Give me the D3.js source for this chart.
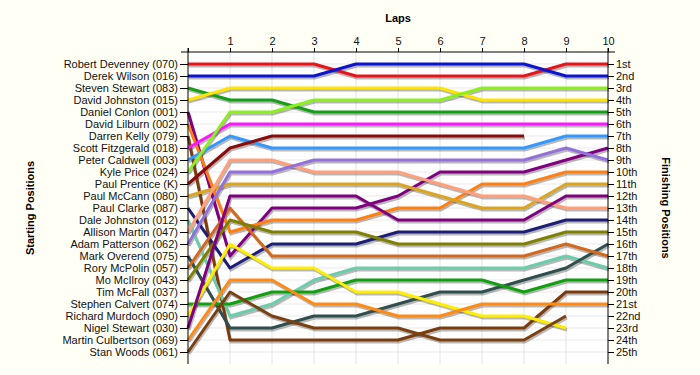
<!DOCTYPE html>
<html>
<head>
<meta charset="utf-8">
<script src="https://cdn.jsdelivr.net/npm/d3@7"></script>
<style>
  body { margin: 0; background: #fffff6; }
  svg { display: block; font-family: "Liberation Sans", Arial, sans-serif; }
  .axis path, .axis line { stroke: #000; }
  .axis text { fill: #111; font-size: 11px; }
</style>
</head>
<body>
<svg id="lapchart" width="700" height="375"></svg>
<script>
// data: starting grid order, and position after each lap (index 0 = start)
const drivers = [
  "Robert Devenney (070)", "Derek Wilson (016)", "Steven Stewart (083)",
  "David Johnston (015)", "Daniel Conlon (001)", "David Lilburn (002)",
  "Darren Kelly (079)", "Scott Fitzgerald (018)", "Peter Caldwell (003)",
  "Kyle Price (024)", "Paul Prentice (K)", "Paul McCann (080)",
  "Paul Clarke (087)", "Dale Johnston (012)", "Allison Martin (047)",
  "Adam Patterson (062)", "Mark Overend (075)", "Rory McPolin (057)",
  "Mo McIlroy (043)", "Tim McFall (037)", "Stephen Calvert (074)",
  "Richard Murdoch (090)", "Nigel Stewart (030)", "Martin Culbertson (069)",
  "Stan Woods (061)"
];
const laps = [1, 2, 3, 4, 5, 6, 7, 8, 9, 10];
const finishLabels = ["1st", "2nd", "3rd", "4th", "5th", "6th", "7th", "8th", "9th", "10th",
  "11th", "12th", "13th", "14th", "15th", "16th", "17th", "18th", "19th", "20th",
  "21st", "22nd", "23rd", "24th", "25th"];
const positions = [
  [1, 1, 1, 1, 2, 2, 2, 2, 2, 1, 1],
  [2, 2, 2, 2, 1, 1, 1, 1, 1, 2, 2],
  [3, 4, 4, 5, 5, 5, 5, 5, 5, 5, 5],
  [4, 3, 3, 3, 3, 3, 3, 4, 4, 4, 4],
  [5, 17, 13, 13, 13, 12, 10, 10, 10, 9, 8],
  [6, 15, 14, 14, 14, 13, 13, 11, 11, 10, 10],
  [7, 24, 24, 24, 24, 24, 23, 23, 23, 20, 20],
  [8, 6, 6, 6, 6, 6, 6, 6, 6, 6, 6],
  [9, 7, 8, 8, 8, 8, 8, 8, 8, 7, 7],
  [10, 5, 5, 4, 4, 4, 4, 3, 3, 3, 3],
  [11, 8, 7, 7, 7, 7, 7, 7, 7],
  [12, 11, 11, 11, 11, 11, 12, 13, 13, 11, 11],
  [13, 18, 16, 16, 16, 15, 15, 15, 15, 14, 14],
  [14, 22, 21, 19, 18, 18, 18, 18, 18, 17, 18],
  [15, 9, 9, 10, 10, 10, 11, 12, 12, 13, 13],
  [16, 10, 10, 9, 9, 9, 9, 9, 9, 8, 9],
  [17, 23, 23, 22, 22, 21, 20, 20, 19, 18, 16],
  [18, 13, 17, 17, 17, 17, 17, 17, 17, 16, 17],
  [19, 14, 15, 15, 15, 16, 16, 16, 16, 15, 15],
  [20],
  [21, 21, 20, 20, 19, 19, 19, 19, 20, 19, 19],
  [22, 16, 18, 18, 20, 20, 21, 22, 22, 23],
  [23, 12, 12, 12, 12, 14, 14, 14, 14, 12, 12],
  [24, 19, 19, 21, 21, 22, 22, 21, 21, 21, 21],
  [25, 20, 22, 23, 23, 23, 24, 24, 24, 22]
];
const palette = [
  "#e8141a", "#0a14d2", "#14a014", "#ffe400", "#800080",
  "#ff8010", "#7a3c0c", "#ff14ff", "#3399ff", "#8cf01e",
  "#8b0a0a", "#dca520", "#1e1e78", "#6ccdaa", "#ffa07a",
  "#9370db", "#2f4f4f", "#d2691e", "#808000", "#999999",
  "#10a010", "#ffee00", "#800080", "#ff8a14", "#7a4010"
];

const svg = d3.select("#lapchart"),
    plotLeft = 188, plotRight = 608, plotTop = 52, plotBottom = 364;

const x = d3.scaleLinear().domain([0, 10]).range([plotLeft, plotRight]);
const y = d3.scaleLinear().domain([0, 26]).range([plotTop, plotBottom]);

svg.append("rect")
    .attr("x", plotLeft).attr("y", plotTop)
    .attr("width", plotRight - plotLeft).attr("height", plotBottom - plotTop)
    .attr("fill", "#fff");

// grid
svg.append("g").selectAll("line")
    .data(d3.range(1, 26))
  .enter().append("line")
    .attr("x1", plotLeft).attr("x2", plotRight)
    .attr("y1", d => y(d)).attr("y2", d => y(d))
    .attr("stroke", "#e9e9e9");
svg.append("g").selectAll("line")
    .data(laps.slice(0, 9))
  .enter().append("line")
    .attr("y1", plotTop).attr("y2", plotBottom)
    .attr("x1", d => x(d)).attr("x2", d => x(d))
    .attr("stroke", "#e4e4e4");

// lines
const line = d3.line()
    .x((d, i) => x(i))
    .y(d => y(d));

const racers = positions.map((p, i) => ({name: drivers[i], pos: p, color: palette[i]}))
    .filter(d => d.pos.length > 1);

svg.append("g")
    .attr("transform", "translate(1,2)")
  .selectAll("path")
    .data(racers)
  .enter().append("path")
    .attr("d", d => line(d.pos))
    .attr("fill", "none")
    .attr("stroke", "#000")
    .attr("stroke-opacity", 0.28)
    .attr("stroke-width", 3);

svg.append("g").selectAll("path")
    .data(racers)
  .enter().append("path")
    .attr("d", d => line(d.pos))
    .attr("fill", "none")
    .attr("stroke", d => d.color)
    .attr("stroke-width", 3)
    .attr("stroke-linejoin", "round");

// axes
svg.append("g")
    .attr("class", "axis")
    .attr("transform", "translate(" + plotLeft + ",0)")
    .call(d3.axisLeft(y).tickValues(d3.range(1, 26))
      .tickFormat(d => drivers[d - 1]).tickSize(8).tickPadding(2).tickSizeOuter(0))
    .call(g => g.select(".domain").attr("d", "M0," + (plotTop - 4) + "V" + plotBottom));

svg.append("g")
    .attr("class", "axis")
    .attr("transform", "translate(" + plotRight + ",0)")
    .call(d3.axisRight(y).tickValues(d3.range(1, 26))
      .tickFormat(d => finishLabels[d - 1]).tickSize(6).tickPadding(2).tickSizeOuter(0))
    .call(g => g.select(".domain").attr("d", "M0," + (plotTop - 4) + "V" + plotBottom));

svg.append("g")
    .attr("class", "axis")
    .attr("transform", "translate(0," + plotTop + ")")
    .call(d3.axisTop(x).tickValues([0].concat(laps))
      .tickFormat(d => d === 0 ? "" : d).tickSize(4).tickPadding(3).tickSizeOuter(0))
    .call(g => g.select(".domain").attr("d", "M" + (plotLeft - 7) + ",0H" + (plotRight + 7)));

// titles
svg.append("text")
    .attr("x", (plotLeft + plotRight) / 2).attr("y", 22)
    .attr("text-anchor", "middle")
    .style("font-size", "11px").style("font-weight", "bold")
    .text("Laps");

svg.append("text")
    .attr("transform", "translate(34," + (plotTop + plotBottom) / 2 + ") rotate(-90)")
    .attr("text-anchor", "middle")
    .style("font-size", "11px").style("font-weight", "bold")
    .text("Starting Positions");

svg.append("text")
    .attr("transform", "translate(662," + (plotTop + plotBottom) / 2 + ") rotate(90)")
    .attr("text-anchor", "middle")
    .style("font-size", "11px").style("font-weight", "bold")
    .text("Finishing Positions");
</script>
</body>
</html>
